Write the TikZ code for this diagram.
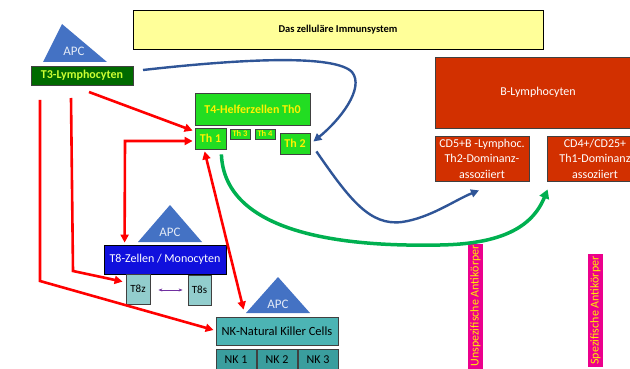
\documentclass[tikz,border=0pt]{standalone}
\usepackage{fontspec}
\setmainfont{Carlito}
\usetikzlibrary{arrows.meta,calc}
\definecolor{apcblue}{HTML}{4472C4}
\definecolor{t3green}{HTML}{006A00}
\definecolor{t3text}{HTML}{CCFF33}
\definecolor{thgreen}{HTML}{22DD22}
\definecolor{bred}{HTML}{D23000}
\definecolor{titleyellow}{HTML}{FFFF99}
\definecolor{t8blue}{HTML}{1010DD}
\definecolor{lteal}{HTML}{92CDCD}
\definecolor{nkteal}{HTML}{4CB4B4}
\definecolor{nkdark}{HTML}{3A9E9E}
\definecolor{arrblue}{HTML}{2F5597}
\definecolor{arrgreen}{HTML}{00B050}
\definecolor{arrpurple}{HTML}{7030A0}
\definecolor{boxline}{HTML}{404040}
\begin{document}
\begin{tikzpicture}[x=1pt,y=-1pt,
  box/.style={draw=boxline,line width=0.8pt,inner sep=0pt,align=center},
  thbox/.style={box,fill=thgreen,text=yellow,font=\bfseries},
  bbox/.style={box,fill=bred,text=white,font=\fontsize{12}{15.5}\selectfont},
  apctxt/.style={text=white!85!apcblue,font=\fontsize{13}{15}\selectfont},
  apctri/.style={fill=apcblue},
  redarr/.style={draw=red,line width=2.6pt,-{Triangle[length=8pt,width=8pt]}},
  redarr2/.style={draw=red,line width=2.6pt,{Triangle[length=8pt,width=8pt]}-{Triangle[length=8pt,width=8pt]}},
  bluearr/.style={draw=arrblue,line width=2.4pt,-{Triangle[length=8pt,width=8pt]}},
  greenarr/.style={draw=arrgreen,line width=3.5pt,-{Triangle[length=9pt,width=10pt]}},
  antik/.style={fill=magenta,text=yellow,rotate=90,inner sep=0pt,minimum height=15pt,font=\fontsize{12}{14}\selectfont}
]
\useasboundingbox (0,0) rectangle (630,369);
\clip (0,0) rectangle (630,369);

% title
\node[box,draw=black,fill=titleyellow,minimum width=410pt,minimum height=39pt,font=\fontsize{10.5}{12}\selectfont\bfseries] (title) at (338,29.5) {Das zelluläre Immunsystem};

% APC + T3
\fill[apctri] (62,24) -- (107,62) -- (43,62) -- cycle;
\node[apctxt] (apc1) at (74,51) {APC};
\node[box,fill=t3green,text=t3text,minimum width=102pt,minimum height=19pt,font=\fontsize{12}{14}\selectfont\bfseries] (t3) at (82,75.5) {T3-Lymphocyten};

% T4 helpers
\node[thbox,minimum width=115pt,minimum height=32pt,font=\fontsize{12}{14}\selectfont\bfseries] (t4) at (252.5,109) {T4-Helferzellen Th0};
\node[thbox,minimum width=31pt,minimum height=21pt,font=\fontsize{12}{14}\selectfont\bfseries] (th1) at (210.5,138.5) {Th 1};
\node[thbox,minimum width=20pt,minimum height=10pt,font=\fontsize{8.5}{9}\selectfont\bfseries] (th3) at (240,134) {Th 3};
\node[thbox,minimum width=20pt,minimum height=10pt,font=\fontsize{8.5}{9}\selectfont\bfseries] (th4) at (265,134) {Th 4};
\node[thbox,minimum width=30pt,minimum height=21pt,font=\fontsize{12}{14}\selectfont\bfseries] (th2) at (295,143.5) {Th 2};

% B-Lymphocyten
\node[bbox,minimum width=206pt,minimum height=71pt] (blym) at (538,92.5) {B-Lymphocyten};
\node[bbox,minimum width=94pt,minimum height=45pt] (cd5) at (482,158.5) {CD5+B -Lymphoc.\\Th2-Dominanz-\\assoziiert};
\node[bbox,minimum width=96pt,minimum height=45pt] (cd4) at (595,158.5) {CD4+/CD25+\\Th1-Dominanz\\assoziiert};

% T8
\fill[apctri] (170,205) -- (202,242) -- (138,242) -- cycle;
\node[apctxt] (apc2) at (170,232) {APC};
\node[box,draw=black,fill=t8blue,text=white,minimum width=122pt,minimum height=29pt,font=\fontsize{12}{14}\selectfont] (t8) at (165,259.5) {T8-Zellen / Monocyten};
\node[box,fill=lteal,text=black,minimum width=24pt,minimum height=30pt,font=\fontsize{11}{13}\selectfont] (t8z) at (138,289) {T8z};
\node[box,fill=lteal,text=black,minimum width=23pt,minimum height=30pt,font=\fontsize{11}{13}\selectfont] (t8s) at (199.5,290) {T8s};
\draw[arrpurple,line width=1pt,{Stealth[length=4pt]}-{Stealth[length=4pt]}] ($(t8z.east)+(8,1)$) -- ($(t8s.west)+(-5,0)$);

% NK
\fill[apctri] (278,277) -- (310,313) -- (246,313) -- cycle;
\node[apctxt] (apc3) at (278,304) {APC};
\node[box,fill=nkteal,text=black,minimum width=122pt,minimum height=28pt,font=\fontsize{12.5}{14}\selectfont] (nk) at (277,331) {NK-Natural Killer Cells};
\node[box,fill=nkdark,text=black,minimum width=40pt,minimum height=22pt,font=\fontsize{12}{14}\selectfont] (nk1) at (236,360) {NK 1};
\node[box,fill=nkdark,text=black,minimum width=40pt,minimum height=22pt,font=\fontsize{12}{14}\selectfont] (nk2) at (277,360) {NK 2};
\node[box,fill=nkdark,text=black,minimum width=40pt,minimum height=22pt,font=\fontsize{12}{14}\selectfont] (nk3) at (318,360) {NK 3};

% Antikoerper labels
\node[antik,minimum width=125pt] (unsp) at (475.5,306) {Unspezifische Antikörper};
\node[antik,minimum width=113pt] (spez) at (595.5,310.5) {Spezifische Antikörper};

% red arrows
\coordinate (r1s) at (89,92);
\coordinate (r2s) at (40,100);
\coordinate (r3s) at (71,98);
\draw[redarr] (r1s) -- ($(th1.north west)+(-2,3)$);
\draw[redarr] (r2s) -- (40,281) -- ($(nk.west)+(-2,-1)$);
\draw[redarr] (r3s) -- (73,271) -- ($(t8z.north west)+(-3,8)$);
\draw[redarr2] ($(t8.north west)+(21,-2)$) -- (125,141) -- ($(th1.west)+(-2,2.5)$);
\draw[redarr2] ($(th1.south west)+(10,2)$) -- ($(nk.north west)+(28,-7)$);

% blue arrows
\coordinate (b1s) at (143,70);
\draw[bluearr] (b1s) .. controls (250,58) and (335,55) .. (352,72) .. controls (365,88) and (340,120) .. ($(th2.east)+(3,-2)$);
\draw[bluearr] ($(th2.south east)+(6,-3)$) .. controls (350,200) and (370,226) .. (402,222) .. controls (430,218) and (455,200) .. ($(cd5.south)+(-3,9)$);

% green arrow
\draw[greenarr] ($(th1.south east)+(-5,5)$) .. controls (225,245) and (380,246) .. (440,245) .. controls (500,244) and (532,228) .. ($(cd4.south west)+(1,8)$);
\end{tikzpicture}
\end{document}
